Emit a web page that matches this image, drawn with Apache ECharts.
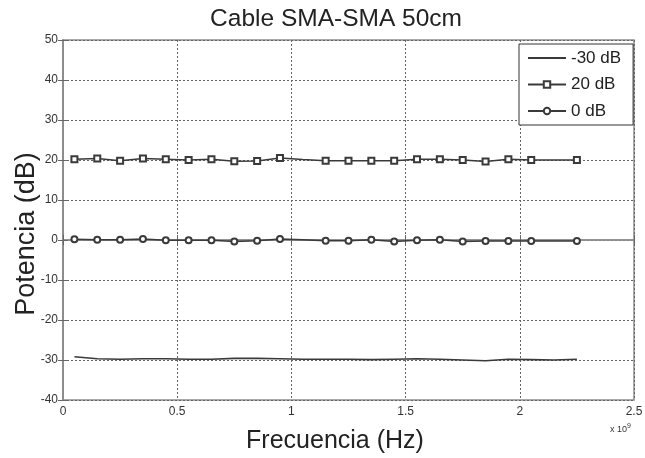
<!DOCTYPE html>
<html>
<head>
<meta charset="utf-8">
<script src="https://cdn.jsdelivr.net/npm/echarts@6/dist/echarts.min.js"></script>
<style>html,body{margin:0;padding:0;background:#fff}#c{width:645px;height:458px}</style>
</head>
<body>
<div id="c"></div>
<script>
// Frequencies in units of 1e9 Hz
const freq = [0.05,0.15,0.25,0.35,0.45,0.55,0.65,0.75,0.85,0.95,1.05,1.15,1.25,1.35,1.45,1.55,1.65,1.75,1.85,1.95,2.05,2.15,2.25];
const sMinus30 = [-29.2,-29.7,-29.8,-29.7,-29.7,-29.8,-29.8,-29.6,-29.6,-29.7,-29.8,-29.8,-29.8,-29.9,-29.8,-29.7,-29.8,-30.0,-30.2,-29.8,-29.9,-30.0,-29.8];
const s20 = [20.2,20.4,19.8,20.4,20.2,20.0,20.2,19.7,19.75,20.5,20.1,19.8,19.8,19.8,19.8,20.2,20.2,20.0,19.6,20.2,20.0,20.0,20.0];
const s0 = [0.17,0.08,0.08,0.25,-0.08,-0.08,-0.08,-0.4,-0.17,0.25,0.05,-0.17,-0.17,0.08,-0.4,-0.08,0.08,-0.4,-0.25,-0.25,-0.25,-0.25,-0.25];
const noMarker = [1.05, 2.15];
const seriesNames = ['-30 dB','20 dB','0 dB'];
const xTicks = [0,0.5,1,1.5,2,2.5];
const yTicks = [-40,-30,-20,-10,0,10,20,30,40,50];

const lineCol = '#3a3a3a';
function pts(vals, marked){
  return freq.map((f,i)=>{
    const d = {value:[f, vals[i]]};
    if (!marked || noMarker.indexOf(f) >= 0) d.symbol = 'none';
    return d;
  });
}
const chart = echarts.init(document.getElementById('c'));
const font = 'Liberation Sans, Arial, sans-serif';
const frameCol = '#8c8c8c';
chart.setOption({
  animation:false,
  backgroundColor:'#fff',
  textStyle:{fontFamily:font},
  grid:{left:63, right:11, top:40, bottom:58, show:true, borderColor:frameCol, borderWidth:1.5,
    backgroundColor:'transparent', containLabel:false, outerBoundsMode:'none'},
  legend:{
    orient:'vertical', left:519, top:44,
    data:[{name:seriesNames[0], itemStyle:{opacity:0}}, {name:seriesNames[1]}, {name:seriesNames[2]}],
    backgroundColor:'#fff', borderColor:'#333', borderWidth:1, borderRadius:0,
    padding:[5,12,5,8], itemWidth:38, itemHeight:8, itemGap:8.5,
    textStyle:{fontSize:17, lineHeight:18, color:'#222', fontFamily:font}
  },
  xAxis:[{
    type:'value', min:xTicks[0], max:xTicks[xTicks.length-1], interval:0.5,
    axisLine:{show:true, lineStyle:{color:frameCol, width:1.5}},
    axisTick:{show:true, inside:true, length:5, lineStyle:{color:'#666'}},
    axisLabel:{fontSize:12, color:'#333', margin:6, fontFamily:font},
    splitLine:{show:true, lineStyle:{type:[2,2], color:'#666', width:1}}
  },{
    type:'value', position:'top', min:0, max:2.5, interval:0.5,
    axisLine:{show:true, lineStyle:{color:frameCol, width:1.5}},
    axisTick:{show:true, inside:true, length:5, lineStyle:{color:'#666'}},
    axisLabel:{show:false}, splitLine:{show:false}
  }],
  yAxis:[{
    type:'value', min:yTicks[0], max:yTicks[yTicks.length-1], interval:10,
    axisLine:{show:true, lineStyle:{color:frameCol, width:1.5}},
    axisTick:{show:true, inside:true, length:5, lineStyle:{color:'#666'}},
    axisLabel:{fontSize:12, color:'#333', margin:5, fontFamily:font},
    splitLine:{show:true, lineStyle:{type:[2,2], color:'#666', width:1}}
  },{
    type:'value', position:'right', min:-40, max:50, interval:10,
    axisLine:{show:true, lineStyle:{color:frameCol, width:1.5}},
    axisTick:{show:true, inside:true, length:5, lineStyle:{color:'#666'}},
    axisLabel:{show:false}, splitLine:{show:false}
  }],
  series:[
    {name:seriesNames[0], type:'line', data:pts(sMinus30,false), symbol:'none',
      lineStyle:{color:lineCol, width:1.6}, itemStyle:{color:lineCol}},
    {name:seriesNames[1], type:'line', data:pts(s20,true), symbol:'emptyRect', symbolSize:6,
      lineStyle:{color:lineCol, width:1.5}, itemStyle:{color:lineCol, borderWidth:1.3}},
    {name:seriesNames[2], type:'line', data:pts(s0,true), symbol:'emptyCircle', symbolSize:6,
      lineStyle:{color:lineCol, width:1.5}, itemStyle:{color:lineCol, borderWidth:1.3}}
  ],
  graphic:[
    {type:'text', x:336, y:19,
      style:{text:'Cable SMA-SMA 50cm', fontSize:24.5, fill:'#222', fontFamily:font, align:'center', verticalAlign:'middle'}},
    {type:'text', x:335, y:441,
      style:{text:'Frecuencia (Hz)', fontSize:25, fill:'#222', fontFamily:font, align:'center', verticalAlign:'middle'}},
    {type:'text', x:27, y:234, rotation:Math.PI/2,
      style:{text:'Potencia (dB)', fontSize:27, fill:'#222', fontFamily:font, align:'center', verticalAlign:'middle'}},
    {type:'text', x:610, y:423,
      style:{text:'x 10{s|9}', rich:{s:{fontSize:7, verticalAlign:'top', padding:[0,0,6,0]}},
        fontSize:9, fill:'#333', fontFamily:font}}
  ]
});
</script>
</body>
</html>
